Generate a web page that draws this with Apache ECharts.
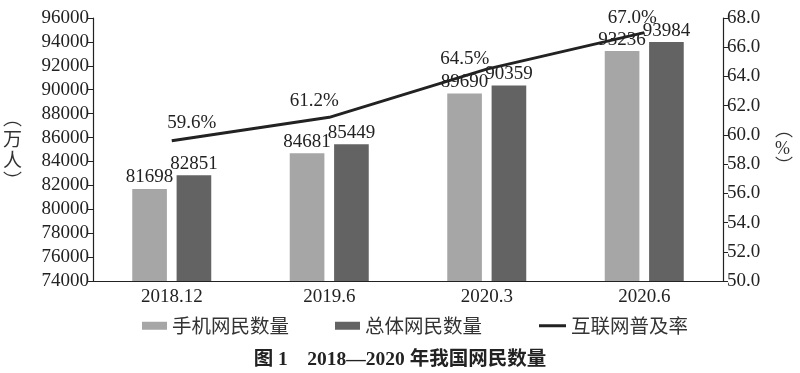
<!DOCTYPE html>
<html><head><meta charset="utf-8">
<script src="https://cdn.jsdelivr.net/npm/echarts@6/dist/echarts.min.js"></script>
<style>html,body{margin:0;padding:0;background:#fff}#c{width:800px;height:373px}</style>
</head><body><div id="c"></div>
<script>
const categories = ['2018.12', '2019.6', '2020.3', '2020.6'];
const mobileUsers = [81698, 84681, 89690, 93236];
const totalUsers = [82851, 85449, 90359, 93984];
const penetration = [59.6, 61.2, 64.5, 67.0];
const leftTicks = { min: 74000, max: 96000, interval: 2000 };
const rightTicks = { min: 50, max: 68, interval: 2 };
const seriesNames = ['手机网民数量', '总体网民数量', '互联网普及率'];
const titleText = '图 1　2018—2020 年我国网民数量';

const FONT = "'Liberation Serif', 'Noto Sans CJK SC', serif";
const CJK = "'Noto Sans CJK SC', sans-serif";
const FS = 19;
const lineLabelOffsets = [[20, -8], [-15, -7], [-22, -1], [-12, -5]];
const chart = echarts.init(document.getElementById('c'), null, { renderer: 'canvas' });
chart.setOption({
  animation: false,
  textStyle: { fontFamily: FONT, color: '#222' },
  title: {
    text: titleText, left: 'center', top: 345,
    textStyle: { fontFamily: FONT, fontSize: 19.5, fontWeight: 'bold', color: '#222' }
  },
  legend: [{
    data: [seriesNames[0], seriesNames[1]], top: 311, left: 137, itemGap: 46,
    itemWidth: 25, itemHeight: 8, icon: 'rect',
    textStyle: { fontFamily: CJK, fontSize: 19.5, color: '#333' }
  }, {
    data: [seriesNames[2]], top: 311, left: 534,
    itemWidth: 27, itemHeight: 3, icon: 'rect',
    textStyle: { fontFamily: CJK, fontSize: 19.5, color: '#333' }
  }],
  grid: { left: 87, right: 77, top: 18, bottom: 92, containLabel: false },
  xAxis: {
    type: 'category', data: categories,
    axisLine: { lineStyle: { color: '#222', width: 1.2 } },
    axisTick: { show: false },
    axisLabel: { fontFamily: FONT, fontSize: FS, color: '#222', margin: 7 }
  },
  yAxis: [{
    type: 'value', min: leftTicks.min, max: leftTicks.max, interval: leftTicks.interval,
    name: '︵\n万\n人\n︶', nameLocation: 'middle', nameGap: 71, nameRotate: 0,
    nameTextStyle: { fontFamily: CJK, fontSize: 19, color: '#333', lineHeight: 21 },
    axisLine: { show: true, lineStyle: { color: '#222', width: 1.2 } },
    axisTick: { show: true, length: 5, lineStyle: { color: '#222' } },
    axisLabel: { fontFamily: FONT, fontSize: FS, color: '#222', margin: 4, formatter: v => String(v) },
    splitLine: { show: false }
  }, {
    type: 'value', min: rightTicks.min, max: rightTicks.max, interval: rightTicks.interval,
    name: '︵\n%\n︶', nameLocation: 'middle', nameGap: 52, nameRotate: 0,
    nameTextStyle: { fontFamily: FONT, fontSize: 18, color: '#333', lineHeight: 18 },
    axisLine: { show: true, lineStyle: { color: '#222', width: 1.2 } },
    axisTick: { show: true, length: 5, lineStyle: { color: '#222' } },
    axisLabel: { fontFamily: FONT, fontSize: FS, color: '#222', margin: 4, formatter: v => v.toFixed(1) },
    splitLine: { show: false }
  }],
  series: [{
    name: seriesNames[0], type: 'bar', data: mobileUsers, barWidth: '22%', barGap: '28%',
    itemStyle: { color: '#a6a6a6' },
    label: { show: true, position: 'top', distance: 2, fontFamily: FONT, fontSize: FS, color: '#222' }
  }, {
    name: seriesNames[1], type: 'bar', data: totalUsers, barWidth: '22%',
    itemStyle: { color: '#636363' },
    label: { show: true, position: 'top', distance: 2, fontFamily: FONT, fontSize: FS, color: '#222' }
  }, {
    name: seriesNames[2], type: 'line', yAxisIndex: 1, symbol: 'none',
    data: penetration,
    lineStyle: { color: '#222', width: 3 },
    itemStyle: { color: '#222' }
  }, {
    name: 'penetrationLabels', type: 'scatter', yAxisIndex: 1, symbolSize: 0.01, silent: true, z: 5,
    data: penetration.map((v, i) => ({ value: v, label: { offset: lineLabelOffsets[i] } })),
    itemStyle: { color: '#222', opacity: 1 },
    label: { show: true, position: 'top', distance: 0, fontFamily: FONT, fontSize: FS, color: '#222', opacity: 1, formatter: p => p.value.toFixed(1) + '%' }
  }]
});
</script></body></html>
